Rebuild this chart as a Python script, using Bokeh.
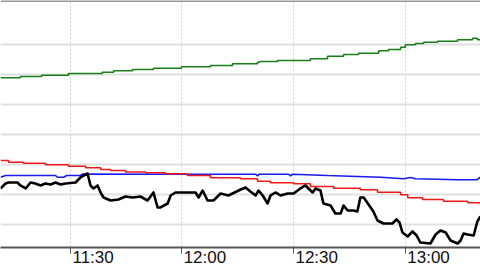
from bokeh.plotting import figure
from bokeh.models import Range1d, FixedTicker, Span
from bokeh.embed import file_html
from bokeh.resources import INLINE

# time in minutes of day, value in price units
price_t = [671.35, 672.7, 673.5, 675.9, 676.7, 678.1, 679.4, 680.7, 682.1, 683.4, 684.8, 686.1, 687.5, 688.8,
           691.5, 692.8, 694.7, 695.5, 696.3, 697.4, 698.2, 699.0, 700.9, 703.0, 704.9, 706.8, 708.9, 710.8,
           712.4, 713.5, 714.3, 716.2, 717.0, 718.3, 723.7, 724.5, 725.6, 726.9, 728.5, 730.4, 732.5, 735.8,
           737.1, 738.4, 739.8, 740.6, 741.7, 743.0, 743.8, 745.1, 746.5, 748.4, 750.0, 751.8, 753.2, 754.0,
           755.1, 755.9, 757.2, 758.0, 759.9, 761.2, 762.6, 763.4, 764.5, 766.1, 767.1, 767.9, 768.8, 770.1,
           771.4, 772.5, 774.1, 776.5, 777.6, 778.4, 779.2, 780.6, 781.9, 783.0, 784.0, 786.7, 788.1, 789.4,
           790.8, 792.1, 794.0, 794.8, 795.6, 796.7, 798.3, 799.3, 800.1]
price_v = [1012.0, 1013.67, 1014.0, 1014.0, 1013.0, 1012.0, 1014.0, 1013.67, 1013.0, 1013.67, 1013.33, 1014.0,
           1013.33, 1013.67, 1014.0, 1015.67, 1017.0, 1013.0, 1012.0, 1013.0, 1010.67, 1009.0, 1008.0, 1008.33,
           1009.33, 1009.0, 1009.33, 1008.0, 1010.67, 1005.67, 1005.67, 1007.0, 1009.67, 1010.67, 1010.67,
           1009.0, 1011.33, 1008.0, 1008.0, 1010.33, 1009.67, 1011.67, 1012.33, 1011.0, 1009.67, 1011.33,
           1009.67, 1007.0, 1009.67, 1010.67, 1009.67, 1010.33, 1010.33, 1012.0, 1013.0, 1012.0, 1010.67,
           1012.0, 1011.33, 1007.0, 1006.33, 1003.67, 1003.67, 1006.33, 1004.67, 1004.67, 1004.33, 1009.0,
           1009.0, 1006.67, 1004.33, 1001.33, 1000.33, 1000.33, 1001.67, 1000.67, 997.33, 996.0, 997.67,
           996.33, 994.0, 993.67, 996.67, 998.0, 997.33, 994.67, 993.67, 994.67, 997.0, 996.67, 996.33,
           1001.0, 1002.67]

red_t = [671.35, 673.5, 677.5, 683.4, 689.6, 694.2, 698.2, 700.9, 704.9, 710.3, 715.6, 721.5, 727.7, 735.7,
         740.3, 743.8, 750.0, 754.5, 760.7, 767.9, 772.5, 778.7, 780.6, 784.6, 790.2, 796.7, 800.1]
red_v = [1021.33, 1020.77, 1020.43, 1019.9, 1019.43, 1018.9, 1018.33, 1018.0, 1017.5, 1017.23, 1016.9,
         1016.33, 1015.57, 1015.23, 1014.43, 1013.9, 1013.57, 1012.67, 1012.1, 1011.57, 1010.77, 1009.9,
         1008.9, 1008.33, 1007.77, 1007.23, 1006.83]

blue_t = [671.35, 672.7, 686.1, 686.6, 688.3, 689.1, 692.8, 693.4, 714.3, 739.8, 740.3, 740.8, 748.6, 749.2,
          749.7, 759.1, 773.3, 779.5, 781.4, 782.7, 794.0, 799.1, 800.1]
blue_v = [1015.77, 1016.33, 1016.33, 1015.77, 1015.77, 1016.33, 1016.33, 1016.83, 1016.77, 1016.77, 1016.17,
          1016.77, 1016.77, 1016.17, 1016.77, 1016.33, 1015.77, 1015.23, 1015.67, 1015.23, 1014.9, 1014.9,
          1015.77]

green_t = [671.35, 676.7, 682.4, 689.6, 698.7, 701.7, 706.8, 712.4, 719.9, 727.7, 733.6, 740.3, 740.8, 745.7,
           754.5, 759.1, 763.4, 767.4, 772.8, 775.5, 778.7, 780.0, 782.7, 784.9, 788.6, 794.0, 798.0, 799.3,
           800.1]
green_v = [1048.9, 1049.33, 1049.77, 1050.33, 1050.77, 1051.23, 1051.67, 1052.1, 1052.57, 1053.0, 1053.57,
           1054.1, 1054.33, 1054.67, 1055.23, 1056.1, 1056.67, 1057.1, 1057.9, 1058.33, 1059.1, 1059.9,
           1060.33, 1060.77, 1061.1, 1061.57, 1062.1, 1061.57, 1061.57]

tick_pos = [690, 720, 750, 780]
tick_labels = ["11:30", "12:00", "12:30", "13:00"]
label_shift = 6.2  # labels sit to the right of their tick
y_grid = [1000, 1010, 1020, 1030, 1040, 1050, 1060]

label_pos = [t + label_shift for t in tick_pos]

p = figure(width=480, height=270, output_backend="svg", toolbar_location=None,
           x_range=Range1d(671.35, 800.14), y_range=Range1d(992.33, 1074.67),
           min_border_left=0, min_border_right=0, min_border_top=0, min_border_bottom=23,
           background_fill_color="white", border_fill_color="white", outline_line_color=None)

p.yaxis.visible = False
xa = p.xaxis[0]
xa.ticker = FixedTicker(ticks=label_pos, minor_ticks=tick_pos)
xa.major_label_overrides = dict(zip(label_pos, tick_labels))
xa.major_tick_line_color = None
xa.major_tick_in = 0
xa.major_tick_out = 0
xa.minor_tick_in = 0
xa.minor_tick_out = 6
xa.minor_tick_line_color = "#555555"
xa.minor_tick_line_width = 1
xa.axis_line_color = "#555555"
xa.axis_line_width = 2
xa.major_label_text_font = "Liberation Sans"
xa.major_label_text_font_size = "17px"
xa.major_label_text_color = "#111111"
xa.major_label_standoff = -6

p.xgrid.ticker = FixedTicker(ticks=tick_pos)
p.xgrid.grid_line_color = "#cfcfcf"
p.xgrid.grid_line_dash = "2 2"
p.xgrid.grid_line_width = 1
p.ygrid.ticker = FixedTicker(ticks=y_grid)
p.ygrid.grid_line_color = "#e0e0e0"
p.ygrid.grid_line_width = 2

p.add_layout(Span(location=1074.67, dimension="width", line_color="#999999", line_width=3))

p.step(green_t, green_v, mode="after", line_color="#1a7f1a", line_width=1.6)
p.line(blue_t, blue_v, line_color="#1a1aee", line_width=1.6)
p.step(red_t, red_v, mode="after", line_color="#ee1a1a", line_width=1.6)
p.line(price_t, price_v, line_color="black", line_width=2.6, line_join="round")

open("out.html", "w").write(file_html(p, INLINE))
